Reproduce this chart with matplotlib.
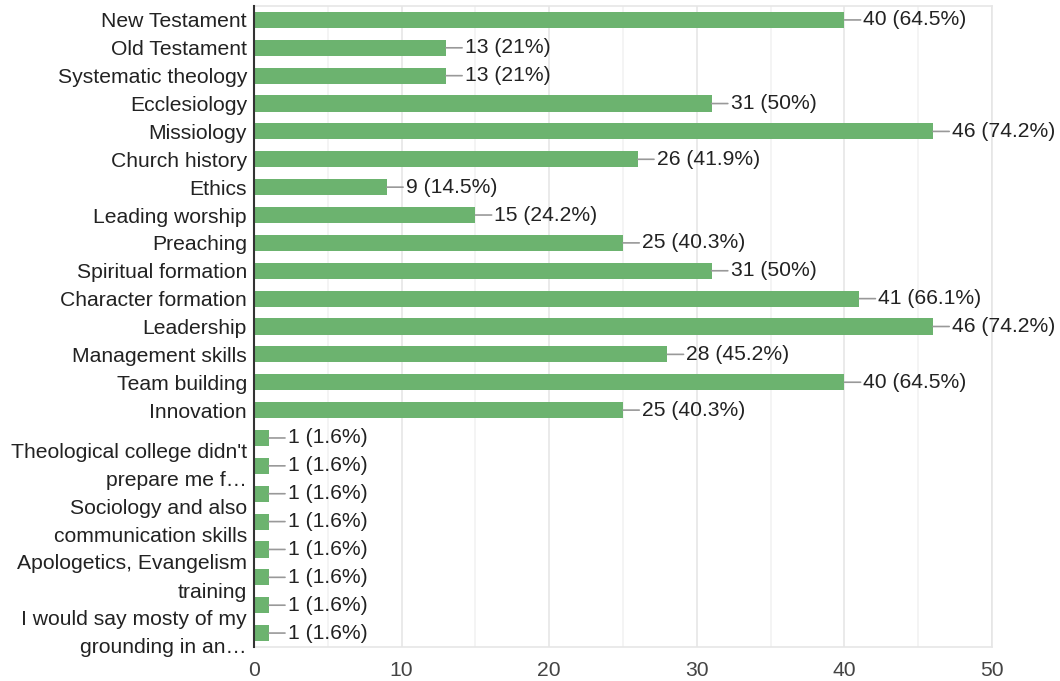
import matplotlib
matplotlib.use("Agg")
import matplotlib.pyplot as plt
import matplotlib.transforms as mtransforms
from matplotlib.ticker import MultipleLocator

categories = [
    "New Testament", "Old Testament", "Systematic theology", "Ecclesiology",
    "Missiology", "Church history", "Ethics", "Leading worship", "Preaching",
    "Spiritual formation", "Character formation", "Leadership",
    "Management skills", "Team building", "Innovation",
    "", "Theological college didn't\nprepare me f…",
    "", "Sociology and also\ncommunication skills",
    "", "Apologetics, Evangelism\ntraining",
    "", "I would say mosty of my\ngrounding in an…",
]
counts = [40, 13, 13, 31, 46, 26, 9, 15, 25, 31, 41, 46, 28, 40, 25,
          1, 1, 1, 1, 1, 1, 1, 1]
percents = ["64.5%", "21%", "21%", "50%", "74.2%", "41.9%", "14.5%", "24.2%",
            "40.3%", "50%", "66.1%", "74.2%", "45.2%", "64.5%", "40.3%",
            "1.6%", "1.6%", "1.6%", "1.6%", "1.6%", "1.6%", "1.6%", "1.6%"]
x_ticks = [0, 10, 20, 30, 40, 50]

plt.rcParams['font.family'] = ['Liberation Sans', 'DejaVu Sans']

fig = plt.figure(figsize=(10.6, 6.81), dpi=100)
ax = fig.add_axes([254/1060, 1 - 647/681, (992 - 254)/1060, (647 - 6)/681])

ypos = list(range(len(categories)))
ax.barh(ypos, counts, height=0.58, color='#6cb36f', zorder=3)

for y, c, p in zip(ypos, counts, percents):
    ax.annotate(f"{c} ({p})", xy=(c, y), xytext=(13.7, 0), textcoords='offset points',
                va='center', ha='left', fontsize=15.2, color='#222222',
                arrowprops=dict(arrowstyle='-', color='#999999', lw=1.2,
                                shrinkA=0, shrinkB=0), zorder=4)

ax.set_ylim(len(categories) - 0.5, -0.5)
ax.set_xlim(0, 50)
ax.set_yticks(ypos)
ax.set_yticklabels(categories, fontsize=15.2, color='#222222', linespacing=1.62)
ax.set_xticks(x_ticks)
ax.set_xticklabels([str(t) for t in x_ticks], fontsize=15.2, color='#444444')
ax.xaxis.set_minor_locator(MultipleLocator(5))
ax.tick_params(axis='both', which='both', length=0)
ax.tick_params(axis='y', pad=5)
ax.tick_params(axis='x', pad=10)

shift = mtransforms.ScaledTranslation(0, 6/100, fig.dpi_scale_trans)
for lbl in ax.get_yticklabels():
    if "\n" in lbl.get_text():
        lbl.set_transform(lbl.get_transform() + shift)

ax.grid(axis='x', which='major', color='#e6e6e6', lw=1.2, zorder=0)
ax.grid(axis='x', which='minor', color='#f2f2f2', lw=1.2, zorder=0)
ax.grid(axis='y', which='both', visible=False)

for s in ['top', 'bottom', 'right']:
    ax.spines[s].set_color('#e6e6e6')
    ax.spines[s].set_linewidth(1.2)
ax.spines['left'].set_color('#333333')
ax.spines['left'].set_linewidth(1.5)
ax.spines['left'].set_zorder(5)

fig.savefig("out.png", dpi=100)
